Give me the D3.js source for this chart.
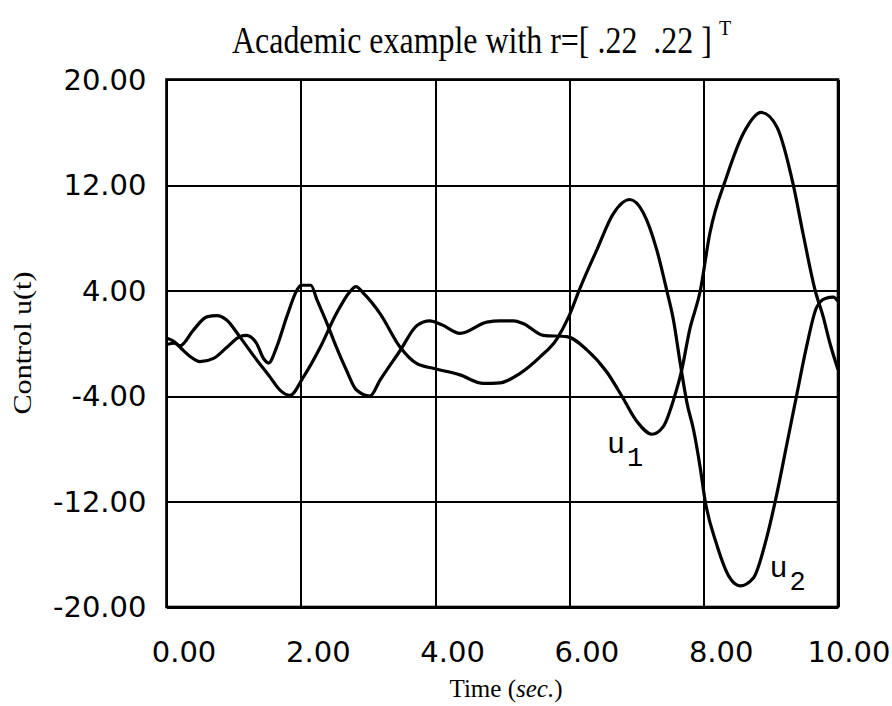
<!DOCTYPE html>
<meta charset="utf-8">
<style>
  body { margin: 0; background: #fff; }
  .grid888 line { stroke: #000; stroke-width: 2px; shape-rendering: crispEdges; }
  .grid888 path { display: none; }
  .tick888 text { font-family: "DejaVu Sans", sans-serif; font-size: 29px; fill: #000; }
  .curve888 { fill: none; stroke: #000; stroke-width: 3.2px; stroke-linejoin: round; }
  .serif888 { font-family: "Liberation Serif", "DejaVu Serif", serif; fill: #000; white-space: pre; }
</style>
<body>
<div id="chart888"></div>
<script src="https://d3js.org/d3.v7.js"></script>
<script>
  // time axis ticks and control axis ticks
  var x_ticks888 = [0, 2, 4, 6, 8, 10];
  var y_ticks888 = [-20, -12, -4, 4, 12, 20];

  // u1
  var t_u1888 = [0, 0.12, 0.22, 0.35, 0.5, 0.7, 0.9, 1.09, 1.19, 1.34, 1.45, 1.52, 1.64, 1.79, 1.94, 2.0, 2.15, 2.24, 2.39, 2.53, 2.68, 2.83, 3.03, 3.18, 3.48, 3.73, 3.92, 4.1, 4.37, 4.77, 4.97, 5.17, 5.31, 5.61, 5.96, 6.26, 6.56, 6.78, 7.0, 7.23, 7.4, 7.55, 7.67, 7.79, 7.95, 8.09, 8.34, 8.59, 8.86, 9.09, 9.33, 9.48, 9.66, 9.78, 9.88, 10];
  var u1888 = [0.4, 0.1, -0.4, -1.0, -1.4, -1.15, -0.3, 0.5, 0.6, 0.0, -1.2, -1.5, -0.3, 2.0, 4.0, 4.4, 4.4, 3.3, 1.5, -0.3, -2.05, -3.55, -4.0, -2.8, -0.55, 1.35, 1.7, 1.4, 0.75, 1.6, 1.7, 1.7, 1.5, 0.6, 0.5, -0.5, -2.2, -4.0, -5.9, -6.9, -6.3, -4.3, -2.1, 1.0, 4.0, 8.3, 12.6, 15.9, 17.5, 16.4, 12.1, 8.3, 4.0, 2.0, 0.0, -2.0];

  // u2
  var t_u2888 = [0, 0.12, 0.2, 0.4, 0.6, 0.75, 0.9, 1.09, 1.29, 1.54, 1.69, 1.84, 2.04, 2.29, 2.53, 2.73, 2.82, 2.95, 3.18, 3.48, 3.73, 3.97, 4.37, 4.72, 4.97, 5.26, 5.56, 5.81, 5.98, 6.16, 6.41, 6.65, 6.9, 7.1, 7.3, 7.45, 7.55, 7.65, 7.75, 7.85, 7.95, 8.02, 8.19, 8.39, 8.54, 8.74, 8.94, 9.09, 9.24, 9.39, 9.53, 9.68, 9.81, 9.93, 10];
  var u2888 = [-0.1, 0.0, -0.2, 1.0, 2.0, 2.1, 1.75, 0.5, -0.9, -2.55, -3.55, -3.95, -2.55, -0.3, 2.25, 3.9, 4.3, 3.7, 2.25, -0.3, -1.55, -1.9, -2.4, -3.05, -3.0, -2.3, -1.05, 0.3, 1.9, 4.2, 7.1, 9.8, 10.9, 9.9, 7.1, 4.0, 1.75, -1.5, -4.5, -6.6, -9.5, -11.9, -15.2, -17.8, -18.4, -17.8, -14.7, -11.4, -7.6, -3.8, -0.3, 2.7, 3.4, 3.5, 3.2];

  var width888 = 892;
  var height888 = 706;
  var left888 = 166.5, right888 = 838, top888 = 79.5, bottom888 = 607;

  var svg888 = d3.select("#chart888")
    .append("svg")
    .attr("width", width888)
    .attr("height", height888);

  var x888 = d3.scaleLinear().domain([0, 10]).range([left888, right888]);
  var y888 = d3.scaleLinear().domain([-20, 20]).range([bottom888, top888]);

  var fmt888 = function(d) { return d.toFixed(2); };

  // vertical grid + time labels
  var xAxis888 = svg888.append("g")
    .attr("class", "grid888 tick888")
    .attr("transform", "translate(0," + bottom888 + ")")
    .call(d3.axisBottom(x888)
      .tickValues(x_ticks888)
      .tickFormat(fmt888)
      .tickSizeInner(-(bottom888 - top888))
      .tickSizeOuter(0)
      .tickPadding(0));

  xAxis888.selectAll("text")
    .attr("y", 55)
    .attr("dy", null)
    .attr("x", function(d) { return d === 10 ? 0 : 17; })
    .style("text-anchor", function(d) { return d === 10 ? "end" : "middle"; })
    .attr("transform", function(d) { return d === 10 ? "translate(" + (890 - x888(10)) + ",0)" : null; });

  // horizontal grid + control labels
  var yAxis888 = svg888.append("g")
    .attr("class", "grid888 tick888")
    .attr("transform", "translate(" + left888 + ",0)")
    .call(d3.axisLeft(y888)
      .tickValues(y_ticks888)
      .tickFormat(fmt888)
      .tickSizeInner(-(right888 - left888))
      .tickSizeOuter(0)
      .tickPadding(0));

  yAxis888.selectAll("text")
    .attr("x", -20)
    .attr("dy", "0.33em")
    .style("text-anchor", "end");

  // frame
  svg888.append("rect")
    .attr("x", left888)
    .attr("y", top888)
    .attr("width", right888 - left888)
    .attr("height", bottom888 - top888)
    .attr("fill", "none")
    .attr("stroke", "#000")
    .attr("stroke-width", 2.6);

  var line888 = d3.line()
    .x(function(d) { return x888(d[0]); })
    .y(function(d) { return y888(d[1]); })
    .curve(d3.curveMonotoneX);

  svg888.append("path")
    .attr("class", "curve888")
    .attr("d", line888(d3.zip(t_u1888, u1888)));

  svg888.append("path")
    .attr("class", "curve888")
    .attr("d", line888(d3.zip(t_u2888, u2888)));

  // title, squeezed horizontally like the old condensed serif
  var titleW888 = 480;
  var title888 = svg888.append("text")
    .attr("class", "serif888")
    .style("font-size", "37px")
    .text("Academic example with r=[ .22  .22 ]");
  var natural888 = title888.node().getComputedTextLength();
  title888.attr("transform", "translate(232,53) scale(" + (titleW888 / natural888) + ",1)");

  svg888.append("text")
    .attr("class", "serif888")
    .attr("x", 232 + titleW888 + 7)
    .attr("y", 35)
    .style("font-size", "20px")
    .text("T");

  // axis titles
  svg888.append("text")
    .attr("class", "serif888")
    .attr("transform", "translate(31,343) rotate(-90)")
    .attr("text-anchor", "middle")
    .attr("textLength", 143)
    .attr("lengthAdjust", "spacingAndGlyphs")
    .style("font-size", "26px")
    .text("Control u(t)");

  var xt888 = svg888.append("text")
    .attr("class", "serif888")
    .attr("x", 506)
    .attr("y", 697)
    .attr("text-anchor", "middle")
    .style("font-size", "25px");
  xt888.append("tspan").text("Time (");
  xt888.append("tspan").style("font-style", "italic").text("sec.");
  xt888.append("tspan").text(")");

  // series labels
  function seriesLabel888(name, sub, xv, yv) {
    var t = svg888.append("text")
      .attr("x", x888(xv))
      .attr("y", y888(yv))
      .style("font-family", "'Liberation Mono', 'DejaVu Sans Mono', monospace")
      .style("font-size", "30px")
      .attr("fill", "#000");
    t.append("tspan").text(name);
    t.append("tspan").attr("dx", 2).attr("dy", 13).style("font-size", "27px").text(sub);
  }
  seriesLabel888("u", "1", 6.56, -8.3);
  seriesLabel888("u", "2", 8.98, -17.7);
</script>
</body>
